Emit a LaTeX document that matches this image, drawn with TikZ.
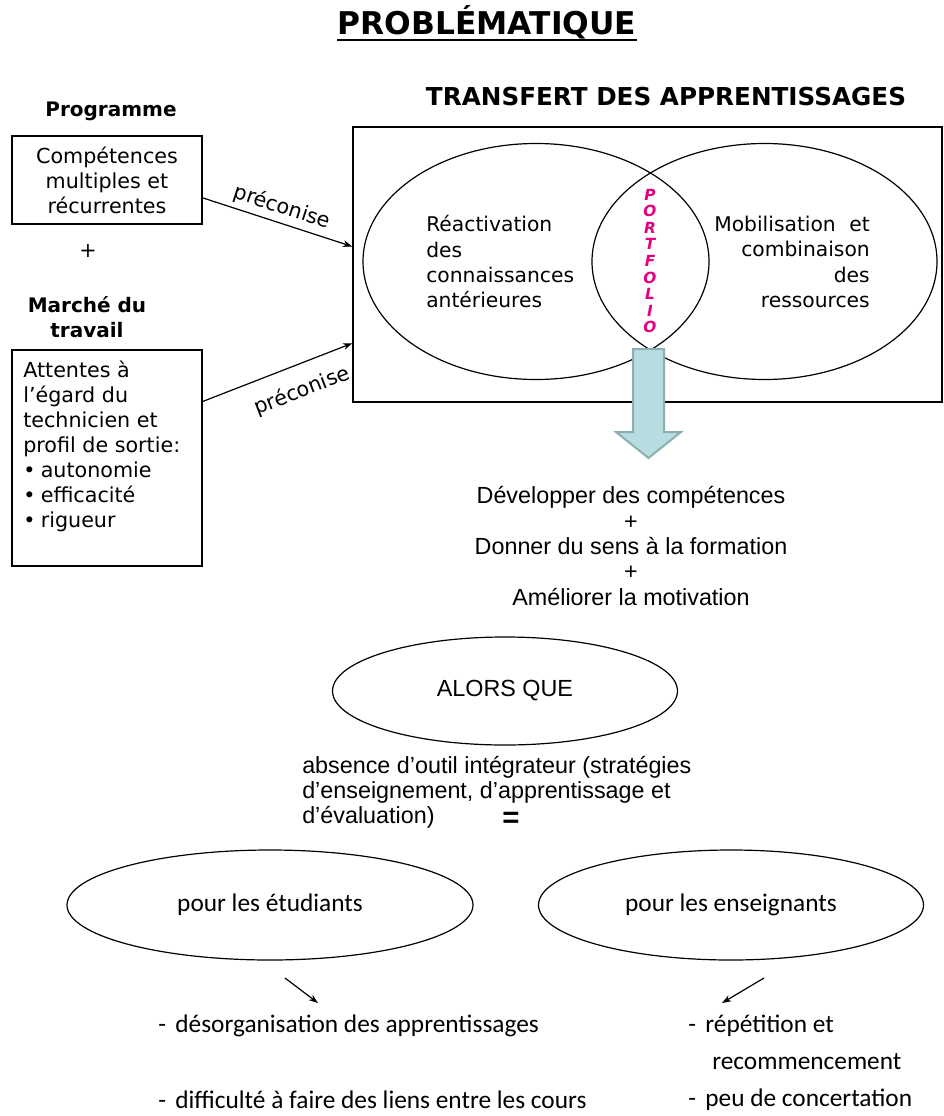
\documentclass[tikz,border=0pt]{standalone}
\usepackage{fontspec}
\usetikzlibrary{shapes.geometric, arrows.meta, calc}
\newfontfamily\verdana{DejaVu Sans}
\newfontfamily\arial{Liberation Sans}
\newfontfamily\calibri{Carlito}
\definecolor{portfolio}{HTML}{E4007F}
\definecolor{fleche}{HTML}{B7DDE0}
\definecolor{flechebord}{HTML}{8CAEAE}

\begin{document}
\begin{tikzpicture}[x=0.75pt, y=-0.75pt,
    boite/.style={draw, line width=1pt, inner sep=0pt},
    bulle/.style={draw, ellipse, line width=0.9pt, inner sep=0pt},
    verd/.style={font=\verdana\fontsize{15.5}{18.75}\selectfont},
    verdgras/.style={font=\verdana\bfseries\fontsize{15}{18.75}\selectfont},
    venn/.style={font=\verdana\fontsize{15.2}{19}\selectfont, inner sep=0pt},
    ariale/.style={font=\arial\fontsize{17.5}{19.1}\selectfont},
    calib/.style={font=\calibri\fontsize{19}{22}\selectfont},
    fl/.style={-{Stealth[length=7pt, width=5pt]}, line width=0.9pt}]
    \useasboundingbox (0,0) rectangle (944,1116);

    % titres
    \node[inner sep=0pt, anchor=base, font=\verdana\bfseries\fontsize{23.5}{26}\selectfont] (titre) at (487,35) {PROBLÉMATIQUE};
    \draw[line width=1.6pt] ([yshift=-4pt]titre.base west) -- ([yshift=-4pt]titre.base east);
    \node[font=\verdana\bfseries\fontsize{18.5}{20}\selectfont] (transfert) at (666,97) {TRANSFERT DES APPRENTISSAGES};

    % colonne de gauche
    \node[verdgras] (prog) at (111,111) {Programme};
    \node[boite, minimum width=142.5pt, minimum height=66pt, verd, align=center] (comp) at (107,180) {Compétences\\multiples et\\récurrentes};
    \node[verd] (plus) at (88,251) {+};
    \node[verdgras, align=center] (marche) at (87,317) {Marché du\\travail};
    \node[boite, minimum width=142.5pt, minimum height=162pt] (attentes) at (107,458) {};
    \node[verd, align=left, anchor=north west, inner sep=0pt] (profil) at (23,361) {Attentes à\\l’égard du\\technicien et\\profil de sortie:\\•\hspace{4pt}autonomie\\•\hspace{4pt}efficacité\\•\hspace{4pt}rigueur};

    % transfert
    \node[boite, minimum width=441.75pt, minimum height=206.25pt] (cadre) at (647.5,264.5) {};
    \node[bulle, minimum width=259.5pt, minimum height=177pt] (reac) at (536,261.5) {};
    \node[bulle, minimum width=258.75pt, minimum height=177pt] (mobil) at (764.5,261.5) {};
    \node[venn, align=left, anchor=west] (reactxt) at (426,262) {Réactivation\\des\\connaissances\\antérieures};
    \node[venn, align=right, anchor=east] (mobiltxt) at (870,262) {Mobilisation\hspace{0.35em} et\\combinaison\\des\\ressources};
    \node[text=portfolio, align=center, font=\verdana\bfseries\itshape\fontsize{11.5}{12.4}\selectfont] (portf) at (650,261) {P\\O\\R\\T\\F\\O\\L\\I\\O};
    \draw[fill=fleche, draw=flechebord, line width=1.5pt] (633,349) -- (664,349) -- (664,432) -- (681,432) -- (648.5,458) -- (616,432) -- (633,432) -- cycle;

    \draw[fl] ($(comp.south east)!0.3!(comp.north east)$) -- ($(cadre.south west)!0.565!(cadre.north west)$)
          node[midway, above, sloped, verd] (prec1) {préconise};
    \draw[fl] ($(attentes.south east)!0.76!(attentes.north east)$) -- ($(cadre.south west)!0.215!(cadre.north west)$)
          node[pos=0.6, below=8pt, sloped, verd] (prec2) {préconise};

    % resultats
    \node[ariale, align=center] (buts) at (631,546) {Développer des compétences\\+\\Donner du sens à la formation\\+\\Améliorer la motivation};
    \node[bulle, minimum width=258.75pt, minimum height=81pt, ariale] (alors) at (505,691) {ALORS QUE};
    \node[ariale, align=left, anchor=west, inner sep=0pt, font=\arial\fontsize{17.5}{18.75}\selectfont] (absence) at (302,792) {absence d’outil intégrateur (stratégies\\d’enseignement, d’apprentissage et\\d’évaluation)};
    \node[font=\arial\bfseries\fontsize{22}{24}\selectfont] (egal) at (511,820) {=};

    % consequences
    \node[bulle, minimum width=304.5pt, minimum height=82.5pt, calib] (etud) at (270,905) {pour les étudiants};
    \node[bulle, minimum width=288.75pt, minimum height=82.5pt, calib] (ens) at (731,905) {pour les enseignants};
    \coordinate (d1) at (285,978);
    \coordinate (f1) at (318,1003);
    \coordinate (d2) at (764,978);
    \coordinate (f2) at (722,1003);
    \draw[fl] (d1) -- (f1);
    \draw[fl] (d2) -- (f2);
    \node[calib, anchor=west, inner sep=0pt] (desorg) at (158,1026) {-\hspace{7pt}désorganisation des apprentissages};
    \node[calib, anchor=west, inner sep=0pt] (liens) at (158,1100) {-\hspace{7pt}difficulté à faire des liens entre les cours};
    \node[calib, anchor=west, inner sep=0pt] (repet) at (688,1026) {-\hspace{7pt}répétition et};
    \node[calib, anchor=west, inner sep=0pt] (recomm) at (712,1062) {recommencement};
    \node[calib, anchor=west, inner sep=0pt] (concert) at (688,1100) {-\hspace{7pt}peu de concertation};
\end{tikzpicture}
\end{document}
